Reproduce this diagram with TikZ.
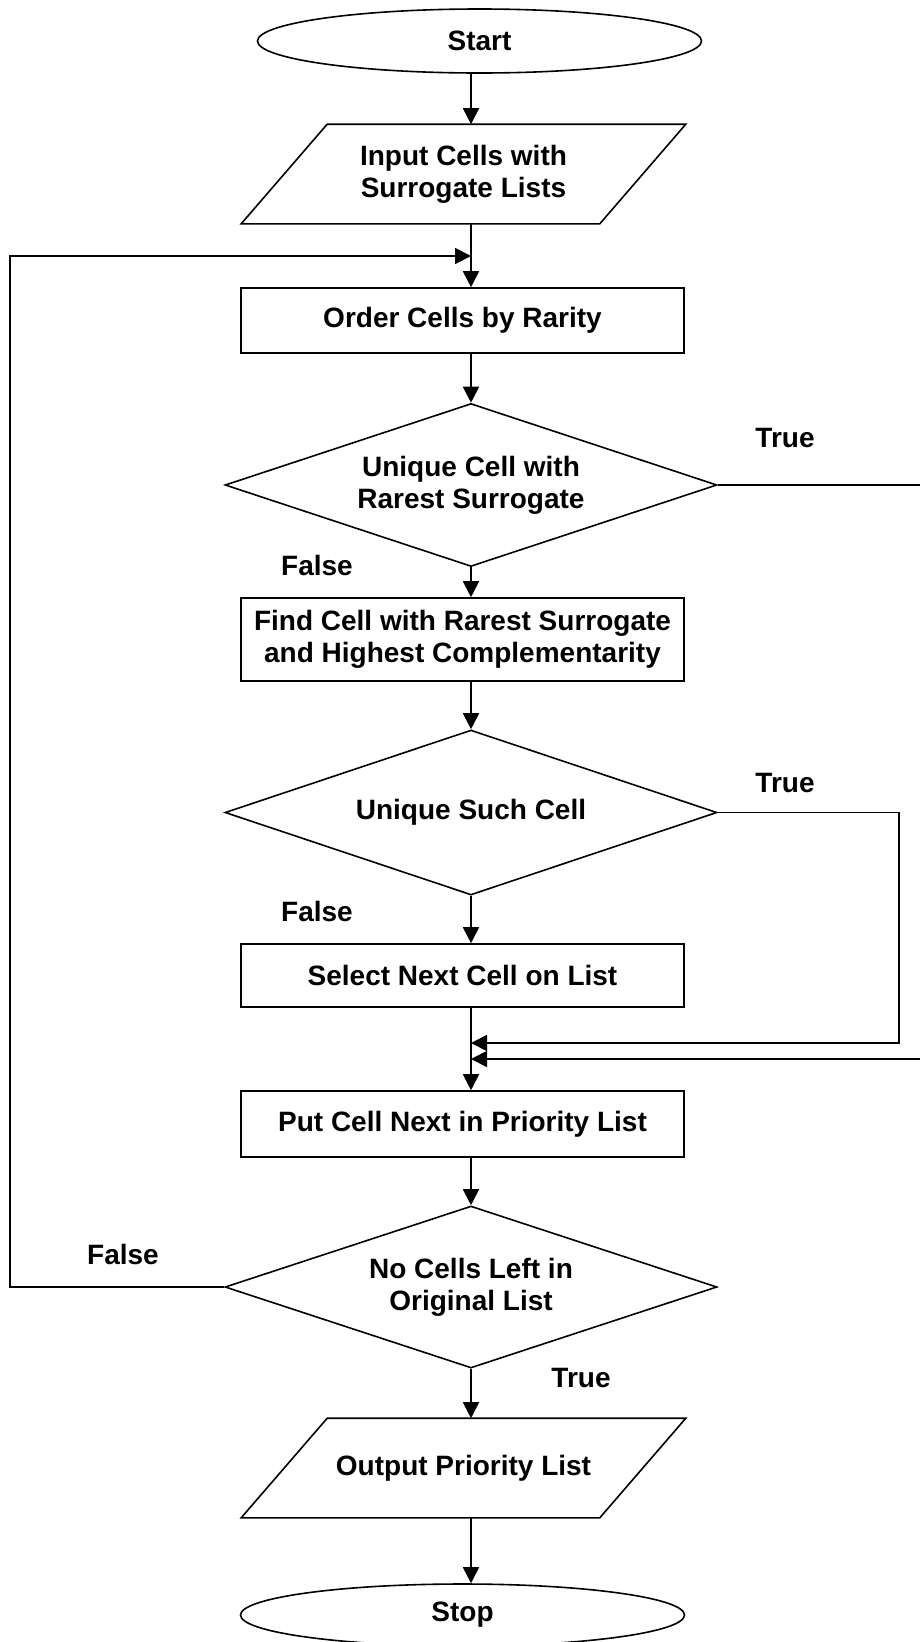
\documentclass[tikz,border=0pt]{standalone}
\usepackage{fontspec}
\setmainfont{Liberation Sans}
\usepackage{tikz}
\usetikzlibrary{arrows.meta,shapes.geometric}

\begin{document}
\begin{tikzpicture}[x=1pt, y=-1pt,
        box/.style = {rectangle, minimum width=443pt},
        decision/.style = {diamond, aspect=3, inner sep=0pt, minimum width=492pt},
        io/.style = {rectangle, draw=none, minimum width=443pt, minimum height=98pt},
        terminal/.style = {ellipse, minimum width=444pt}]
    \useasboundingbox[fill=white] (0,0) rectangle (920,1642);

    \begin{scope}[every node/.style = {draw, line width=1.6pt, align=center,
                  font=\fontsize{28}{32}\selectfont\bfseries}]
        \node[terminal, minimum height=64pt] (start) at (479.5, 41) {Start};
        \node[io] (input) at (463.5, 174) {Input Cells with\\Surrogate Lists};

        \node[box, minimum height=65pt] (order) at (462.5, 320.5) {Order Cells by Rarity};
        \node[decision, minimum height=163pt] (d1) at (471, 485) {Unique Cell with\\Rarest Surrogate};
        \node[box, minimum height=83pt] (find) at (462.5, 639.5) {Find Cell with Rarest Surrogate\\and Highest Complementarity};

        \node[decision, minimum height=165pt] (d2) at (471, 812.5) {Unique Such Cell};
        \node[box, minimum height=63pt] (select) at (462.5, 975.5) {Select Next Cell on List};
        \node[box, minimum height=66pt] (put) at (462.5, 1124) {Put Cell Next in Priority List};

        \node[decision, minimum height=162pt] (d3) at (471, 1287) {No Cells Left in\\Original List};
        \node[io] (output) at (463.5, 1468) {Output Priority List};
        \node[terminal, minimum height=62pt] (stop) at (462.5, 1615) {Stop};
    \end{scope}

    % slanted outline of the input / output boxes
    \foreach \n in {input, output}
        \draw[line width=1.6pt] ([xshift=86]\n.north west) -- (\n.north east)
            -- ([xshift=-86]\n.south east) -- (\n.south west) -- cycle;

    \begin{scope}[every node/.style = {font=\fontsize{28}{32}\selectfont\bfseries}]
        \node (true1) at (785, 438) {True};
        \node (false1) at (317, 565) {False};
        \node (true2) at (785, 783) {True};
        \node (false2) at (317, 911) {False};
        \node (false3) at (123, 1254) {False};
        \node (true3) at (581, 1378) {True};
    \end{scope}

    \coordinate (back) at (471, 256);
    \coordinate (join1) at (471, 1043);
    \coordinate (join2) at (471, 1059);

    \begin{scope}[>={Triangle[length=16pt, width=16pt]},
                  every edge/.style={draw, line width=1.8pt}]
        \path [->] (start.south -| d1.north) edge (input.north -| d1.north);
        \path [->] (input.south -| d1.north) edge (order.north -| d1.north);
        \path [->] (order.south -| d1.north) edge (d1.north);
        \path [->] (d1.south) edge (find.north -| d1.south);
        \path [->] (find.south -| d2.north) edge (d2.north);
        \path [->] (d2.south) edge (select.north -| d2.south);
        \path [->] (select.south -| d3.north) edge (put.north -| d3.north);
        \path [->] (put.south -| d3.north) edge (d3.north);
        \path [->] (d3.south) edge (output.north -| d3.south);
        \path [->] (output.south -| d3.north) edge (stop.north -| d3.north);

        \path [->] (d1.east) edge[to path={-| (924, 1059) -- (\tikztotarget)}] (join2);
        \path [->] (d2.east) edge[to path={-| (899, 1043) -- (\tikztotarget)}] (join1);
        \path [->] (d3.west) edge[to path={-| (10, 256) -- (\tikztotarget)}] (back);
    \end{scope}
\end{tikzpicture}
\end{document}
